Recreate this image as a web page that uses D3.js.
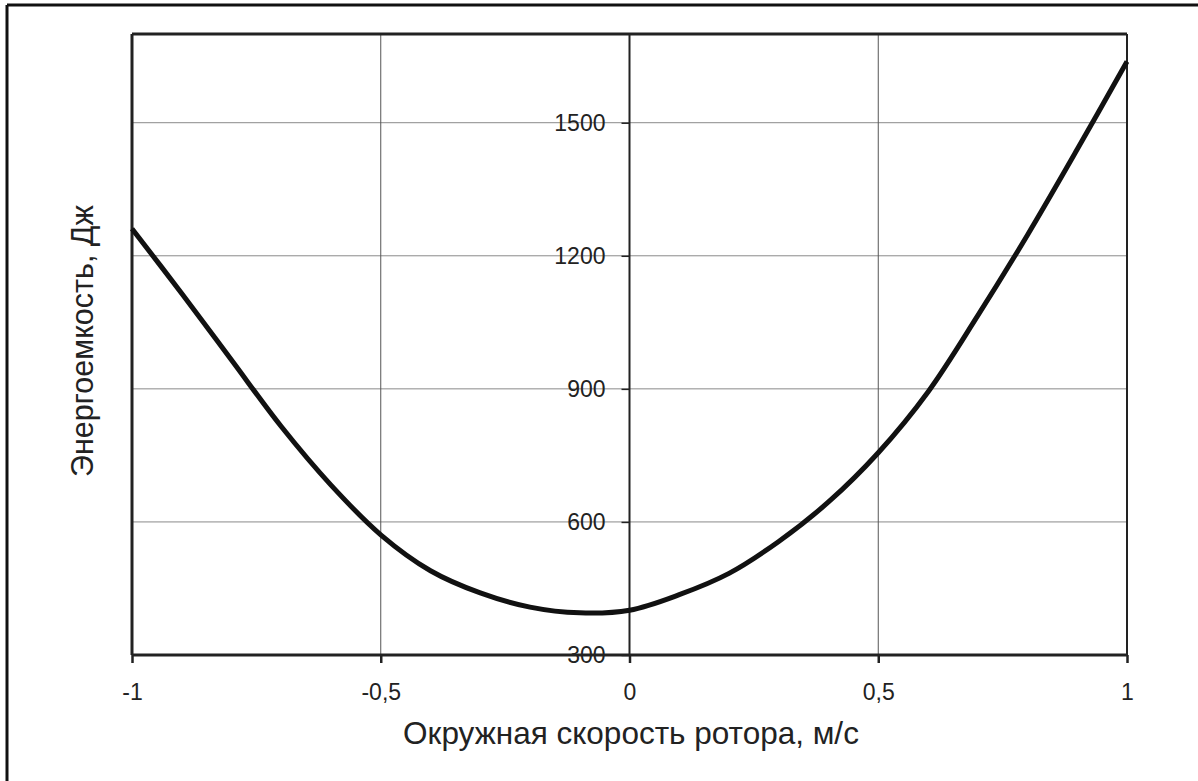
<!DOCTYPE html>
<html>
<head>
<meta charset="utf-8">
<script src="https://cdn.jsdelivr.net/npm/d3@7"></script>
<style>
  body { margin: 0; background: #fff; }
  svg { display: block; }
  text { font-family: "Liberation Sans", Arial, sans-serif; fill: #222; }
</style>
</head>
<body>
<main></main>
<script>
// Energy consumption vs rotor circumferential speed.

let speed  = [-1, -0.9, -0.8, -0.7, -0.6, -0.5, -0.4, -0.3, -0.2, -0.1, 0, 0.1, 0.2, 0.3, 0.4, 0.5, 0.6, 0.7, 0.8, 0.9, 1];
let energy = [1261, 1115, 965, 815, 683, 571, 490, 440, 408, 395, 401, 436, 484, 556, 645, 756, 893, 1065, 1247, 1440, 1638];

let xTicks = [-1, -0.5, 0, 0.5, 1];
let yTicks = [300, 600, 900, 1200, 1500];

let xTitle = 'Окружная скорость ротора, м/с';
let yTitle = 'Энергоемкость, Дж';

let width = 1198,
    height = 781;

let plot = { left: 132, right: 1127, top: 34, bottom: 655 };

let fmt = v => String(v).replace('.', ',');

let svg = d3.select('main').append('svg')
  .attr('width', width)
  .attr('height', height);

let x = d3.scaleLinear().domain([-1, 1]).range([plot.left, plot.right]);
let y = d3.scaleLinear().domain([300, 1700]).range([plot.bottom, plot.top]);

// Outer frame (only left and top survive in the scan).
svg.append('line').attr('stroke', '#111').attr('stroke-width', 3)
  .attr('x1', 7).attr('y1', 5).attr('x2', 7).attr('y2', height);
svg.append('line').attr('stroke', '#111').attr('stroke-width', 3)
  .attr('x1', 7).attr('y1', 5).attr('x2', width).attr('y2', 5);

// Grid.
svg.append('g').selectAll('line')
  .data(yTicks.filter(d => d > 300))
  .join('line')
  .attr('stroke', '#8a8a8a').attr('stroke-width', 1)
  .attr('x1', plot.left).attr('x2', plot.right)
  .attr('y1', d => y(d)).attr('y2', d => y(d));

svg.append('g').selectAll('line')
  .data([-0.5, 0.5])
  .join('line')
  .attr('stroke', '#555').attr('stroke-width', 1)
  .attr('y1', plot.top).attr('y2', plot.bottom)
  .attr('x1', d => x(d)).attr('x2', d => x(d));

// Plot frame.
svg.append('line').attr('stroke', '#222').attr('stroke-width', 3)
  .attr('x1', plot.left).attr('y1', plot.top).attr('x2', plot.right).attr('y2', plot.top);
svg.append('line').attr('stroke', '#222').attr('stroke-width', 3)
  .attr('x1', plot.left).attr('y1', plot.top).attr('x2', plot.left).attr('y2', plot.bottom);
svg.append('line').attr('stroke', '#222').attr('stroke-width', 2)
  .attr('x1', plot.right).attr('y1', plot.top).attr('x2', plot.right).attr('y2', plot.bottom);

// Y axis sits at x = 0.
let yAxis = svg.append('g')
  .attr('transform', `translate(${x(0)},0)`)
  .call(d3.axisLeft(y).tickValues(yTicks).tickSize(8).tickPadding(16).tickFormat(d => d));
yAxis.select('.domain').remove();
yAxis.append('line').attr('stroke', '#222').attr('stroke-width', 2)
  .attr('x1', 0).attr('x2', 0).attr('y1', plot.top).attr('y2', plot.bottom);
yAxis.selectAll('.tick line').attr('stroke', '#222').attr('stroke-width', 1.5);
yAxis.selectAll('.tick text')
  .attr('font-size', 23)
  .attr('font-family', '"Liberation Sans", Arial, sans-serif')
  .attr('fill', '#222');

// X axis.
let xAxis = svg.append('g')
  .attr('transform', `translate(0,${plot.bottom})`)
  .call(d3.axisBottom(x).tickValues(xTicks).tickSize(8).tickPadding(21).tickFormat(fmt));
xAxis.select('.domain').remove();
xAxis.append('line').attr('stroke', '#222').attr('stroke-width', 3)
  .attr('x1', plot.left).attr('x2', plot.right).attr('y1', 0).attr('y2', 0);
xAxis.selectAll('.tick line').attr('stroke', '#222').attr('stroke-width', 2.5);
xAxis.selectAll('.tick text')
  .attr('font-size', 23)
  .attr('font-family', '"Liberation Sans", Arial, sans-serif')
  .attr('fill', '#222');

// Curve.
let line = d3.line()
  .x((d, i) => x(speed[i]))
  .y(d => y(d))
  .curve(d3.curveCatmullRom.alpha(0.5));

svg.append('path')
  .datum(energy)
  .attr('fill', 'none')
  .attr('stroke', '#111')
  .attr('stroke-width', 5)
  .attr('stroke-linejoin', 'round')
  .attr('d', line);

// Titles.
svg.append('text')
  .attr('x', 631).attr('y', 744)
  .attr('text-anchor', 'middle')
  .attr('font-size', 31.5)
  .text(xTitle);

svg.append('text')
  .attr('transform', 'translate(93,341) rotate(-90)')
  .attr('text-anchor', 'middle')
  .attr('font-size', 30.5)
  .text(yTitle);
</script>
</body>
</html>
